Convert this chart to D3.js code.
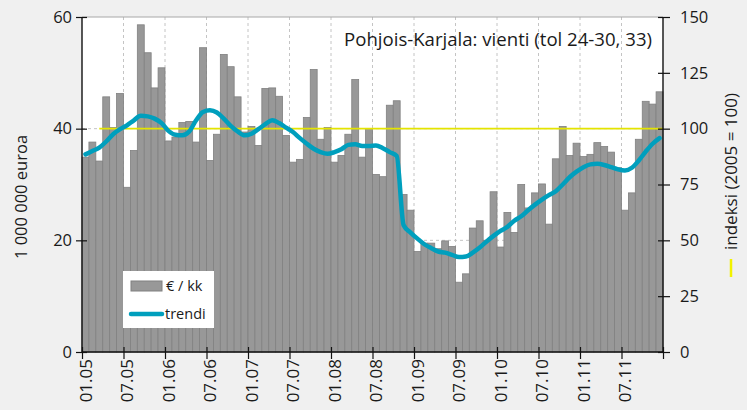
<!DOCTYPE html>
<html>
<head>
<meta charset="utf-8">
<script src="https://cdn.jsdelivr.net/npm/d3@7"></script>
<style>
    body { margin: 0; background: #f0f0f0; }
    text { font-family: "Open Sans", sans-serif; fill: #1a1a1a; }
</style>
</head>
<body>
<div id="chart"></div>
<script>
// Monthly categories 01.05 ... 12.11
var years = ['05', '06', '07', '08', '09', '10', '11'];
var monthNames = ['01', '02', '03', '04', '05', '06', '07', '08', '09', '10', '11', '12'];
var categories = [];
years.forEach(function(y) { monthNames.forEach(function(m) { categories.push(m + '.' + y); }); });

// Export value, million euro per month
var exportValues = [
    34.9, 37.6, 34.2, 45.7, 40.2, 46.3, 29.5, 36.1, 58.6, 53.6, 47.3, 50.9,
    37.8, 38.5, 41.1, 41.3, 37.6, 54.5, 34.3, 39.0, 53.3, 51.1, 45.7, 39.4,
    40.4, 37.0, 47.2, 47.3, 45.8, 38.8, 34.0, 34.5, 42.0, 50.6, 38.1, 40.2,
    34.0, 35.2, 39.0, 48.8, 34.9, 40.0, 31.8, 31.4, 44.2, 45.0, 28.2, 25.4,
    18.0, 19.5, 19.5, 18.5, 19.9, 18.9, 12.5, 14.0, 22.2, 23.5, 20.0, 28.7,
    18.8, 25.0, 21.4, 30.0, 25.8, 28.5, 30.1, 22.9, 34.6, 40.4, 35.2, 37.4,
    35.0, 35.4, 37.5, 36.8, 35.8, 33.0, 25.4, 28.5, 38.1, 44.9, 44.4, 46.6
];

// Trend, million euro per month
var trendValues = [
    35.4, 36.0, 36.6, 37.7, 39.0, 39.9, 40.6, 41.5, 42.3, 42.2, 41.8, 41.0,
    39.6, 38.9, 38.8, 39.5, 41.5, 43.0, 43.3, 42.9, 41.8, 40.5, 39.5, 38.8,
    39.1, 39.9, 40.8, 41.5, 41.0, 40.2, 39.4, 38.3, 37.3, 36.4, 35.8, 35.5,
    35.8, 36.3, 37.1, 37.2, 36.9, 36.9, 37.0, 36.5, 35.8, 35.1, 22.7, 21.4,
    20.3, 19.3, 18.6, 18.0, 17.8, 17.4, 17.0, 17.1, 17.8, 18.7, 19.8, 20.8,
    21.7, 22.4, 23.5, 24.3, 25.4, 26.4, 27.3, 28.1, 28.8, 30.0, 31.3, 32.3,
    33.1, 33.6, 33.7, 33.5, 33.1, 32.7, 32.5, 33.0, 34.3, 35.9, 37.3, 38.3
];

var xTickLabels = ['01.05', '07.05', '01.06', '07.06', '01.07', '07.07', '01.08',
                   '07.08', '01.09', '07.09', '01.10', '07.10', '01.11', '07.11'];
var yLeftTicks = [0, 20, 40, 60];
var yRightTicks = [0, 25, 50, 75, 100, 125, 150];
var indexLevel = 100;
var indexStart = 2;

var margin = {top: 17, right: 84, bottom: 58, left: 82},
    width = 747,
    height = 410;
var drawWidth = width - margin.left - margin.right;
var drawHeight = height - margin.top - margin.bottom;

var svg = d3.select('#chart').append('svg')
    .attr('width', width)
    .attr('height', height);

var g = svg.append('g')
    .attr('transform', 'translate(' + margin.left + ',' + margin.top + ')');

// Scales
var xScale = d3.scaleBand().domain(categories).range([0, drawWidth]).padding(0);
var xTick = d3.scaleLinear().domain([0, categories.length]).range([0, drawWidth]);
var yScale = d3.scaleLinear().domain([0, 60]).range([drawHeight, 0]);
var yRight = d3.scaleLinear().domain([0, 150]).range([drawHeight, 0]);

// Plot background
g.append('rect')
    .attr('width', drawWidth)
    .attr('height', drawHeight)
    .attr('fill', '#ffffff');

// Grid lines
var xGridVals = d3.range(0, categories.length + 1, 6);
g.selectAll('.vgrid').data(xGridVals.slice(1, -1)).enter()
    .append('line')
    .attr('x1', function(d) { return xTick(d); })
    .attr('x2', function(d) { return xTick(d); })
    .attr('y1', 0).attr('y2', drawHeight)
    .attr('stroke', '#c4c4c4')
    .attr('stroke-dasharray', '3,3');

g.selectAll('.hgrid').data([20, 40]).enter()
    .append('line')
    .attr('x1', 0).attr('x2', drawWidth)
    .attr('y1', function(d) { return yScale(d); })
    .attr('y2', function(d) { return yScale(d); })
    .attr('stroke', '#c4c4c4')
    .attr('stroke-dasharray', '3,3');

g.append('line')
    .attr('x1', 0).attr('x2', drawWidth)
    .attr('y1', 0).attr('y2', 0)
    .attr('stroke', '#a8a8a8');

// Bars
g.selectAll('.bar').data(exportValues).enter()
    .append('rect')
    .attr('class', 'bar')
    .attr('x', function(d, i) { return xScale(categories[i]); })
    .attr('y', function(d) { return yScale(d); })
    .attr('width', xScale.bandwidth())
    .attr('height', function(d) { return drawHeight - yScale(d); })
    .attr('fill', '#989898')
    .attr('stroke', '#808080')
    .attr('stroke-width', 0.8);

// Index 100 line
g.append('line')
    .attr('x1', xScale(categories[indexStart]) + xScale.bandwidth() / 2)
    .attr('x2', drawWidth)
    .attr('y1', yRight(indexLevel))
    .attr('y2', yRight(indexLevel))
    .attr('stroke', '#e4e400')
    .attr('stroke-width', 1.6);

// Trend line
var line = d3.line()
    .x(function(d, i) { return xScale(categories[i]) + xScale.bandwidth() / 2; })
    .y(function(d) { return yScale(d); })
    .curve(d3.curveMonotoneX);

g.append('path')
    .attr('d', line(trendValues))
    .attr('fill', 'none')
    .attr('stroke', '#009fbd')
    .attr('stroke-width', 4.5)
    .attr('stroke-linecap', 'round')
    .attr('stroke-linejoin', 'round');

// Axes
var xAxis = d3.axisBottom(xTick)
    .tickValues(xGridVals)
    .tickSize(7)
    .tickFormat(function(d) { return xTickLabels[d / 6] || ''; });
var yAxis = d3.axisLeft(yScale).tickValues(yLeftTicks).tickSize(6);
var yAxisR = d3.axisRight(yRight).tickValues(yRightTicks).tickSize(7);

var gx = g.append('g')
    .attr('transform', 'translate(0,' + drawHeight + ')')
    .call(xAxis);
gx.selectAll('.tick line').attr('y1', -5);
gx.selectAll('.tick text')
    .attr('text-anchor', 'end')
    .attr('x', -7)
    .attr('y', 0)
    .attr('dy', '0.38em')
    .attr('transform', 'translate(3,0) rotate(-90)')
    .style('font-size', '17px');

var gy = g.append('g').call(yAxis);
gy.selectAll('.tick line').attr('x1', 5);
gy.selectAll('.tick text').attr('x', -10).style('font-size', '16.5px');

var gyr = g.append('g')
    .attr('transform', 'translate(' + drawWidth + ',0)')
    .call(yAxisR);
gyr.selectAll('.tick line').attr('x1', -5);
gyr.selectAll('.tick text').attr('x', 17).style('font-size', '16.5px');

[gx, gy, gyr].forEach(function(a) {
    a.select('.domain').attr('stroke', '#111').attr('stroke-width', 1.4);
    a.selectAll('.tick line').attr('stroke', '#111').attr('stroke-width', 1.2);
    a.attr('font-family', null).attr('font-size', null);
});
gy.select('.domain').attr('d', 'M0,0V' + drawHeight);
gyr.select('.domain').attr('d', 'M0,0V' + drawHeight);
gx.select('.domain').attr('d', 'M0,0H' + drawWidth);

// Chart title
svg.append('text')
    .attr('x', 652)
    .attr('y', 46)
    .attr('text-anchor', 'end')
    .style('font-size', '18.6px')
    .text('Pohjois-Karjala: vienti (tol 24-30, 33)');

// Y axis titles
svg.append('text')
    .attr('transform', 'translate(21,197) rotate(-90)')
    .attr('text-anchor', 'middle')
    .attr('dy', '0.35em')
    .style('font-size', '16.5px')
    .text('1 000 000 euroa');

var rt = svg.append('g').attr('transform', 'translate(731,277) rotate(-90)');
rt.append('line')
    .attr('x1', 0).attr('x2', 18)
    .attr('y1', 0).attr('y2', 0)
    .attr('stroke', '#f2f200')
    .attr('stroke-width', 2.5);
rt.append('text')
    .attr('x', 27)
    .attr('dy', '0.35em')
    .style('font-size', '17px')
    .text('indeksi (2005 = 100)');

// Legend
var legend = svg.append('g').attr('transform', 'translate(123,271)');
legend.append('rect')
    .attr('width', 91).attr('height', 57)
    .attr('fill', '#ffffff');
legend.append('rect')
    .attr('x', 8).attr('y', 10)
    .attr('width', 31).attr('height', 10)
    .attr('fill', '#989898')
    .attr('stroke', '#808080');
legend.append('text')
    .attr('x', 43).attr('y', 15)
    .attr('dy', '0.35em')
    .style('font-size', '14.5px')
    .text('€ / kk');
legend.append('line')
    .attr('x1', 8).attr('x2', 39)
    .attr('y1', 43).attr('y2', 43)
    .attr('stroke', '#009fbd')
    .attr('stroke-width', 4.5)
    .attr('stroke-linecap', 'round');
legend.append('text')
    .attr('x', 42).attr('y', 43)
    .attr('dy', '0.35em')
    .style('font-size', '14.5px')
    .text('trendi');
</script>
</body>
</html>
